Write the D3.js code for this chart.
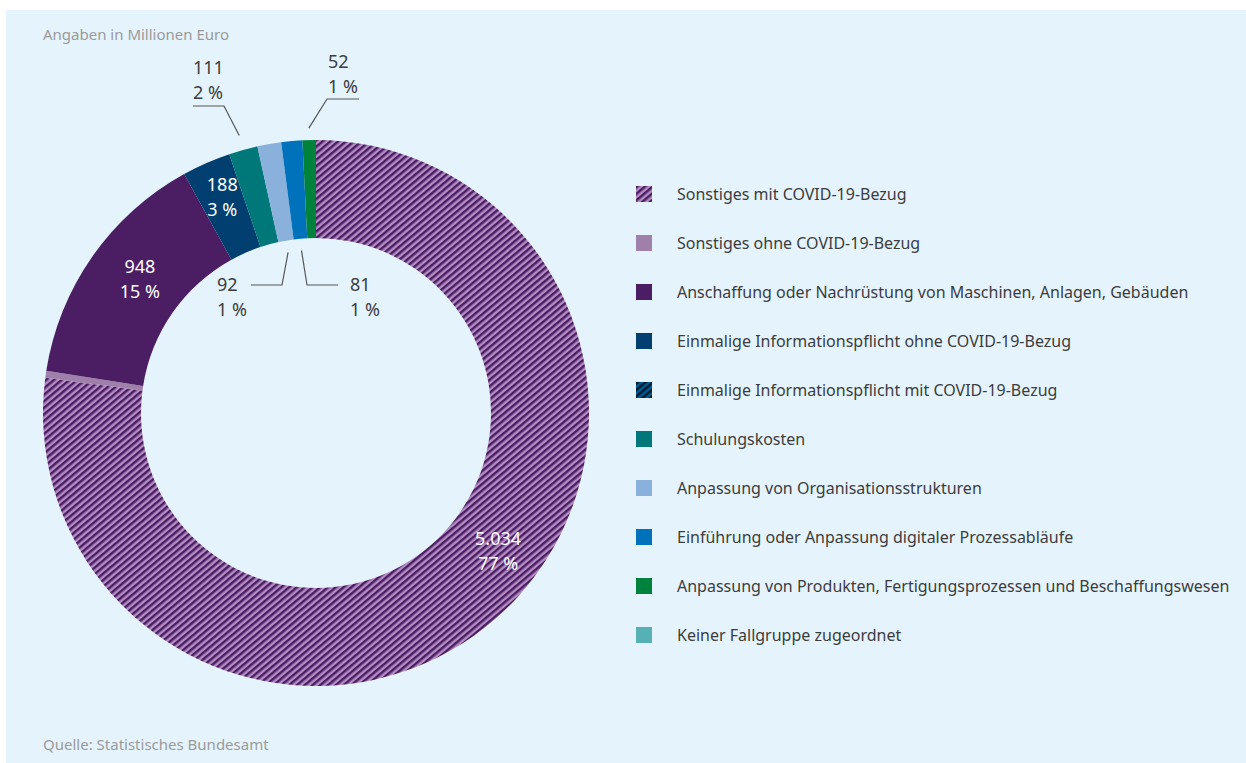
<!DOCTYPE html>
<html>
<head>
<meta charset="utf-8">
<script src="https://cdn.jsdelivr.net/npm/d3@7"></script>
<style>
  body { margin: 0; background: #ffffff; }
  svg { display: block; font-family: "Noto Sans", sans-serif; }
</style>
</head>
<body>
<div id="chart"></div>
<script>
// data (Millionen Euro), clockwise from 12 o'clock
const categories = [
  "Sonstiges mit COVID-19-Bezug",
  "Sonstiges ohne COVID-19-Bezug",
  "Anschaffung oder Nachrüstung von Maschinen, Anlagen, Gebäuden",
  "Einmalige Informationspflicht ohne COVID-19-Bezug",
  "Einmalige Informationspflicht mit COVID-19-Bezug",
  "Schulungskosten",
  "Anpassung von Organisationsstrukturen",
  "Einführung oder Anpassung digitaler Prozessabläufe",
  "Anpassung von Produkten, Fertigungsprozessen und Beschaffungswesen",
  "Keiner Fallgruppe zugeordnet"
];
const values = [5034, 27, 948, 188, 0, 111, 92, 81, 52, 0];
const valueLabels = ["5.034", "", "948", "188", "", "111", "92", "81", "52", ""];
const percentLabels = ["77 %", "", "15 %", "3 %", "", "2 %", "1 %", "1 %", "1 %", ""];

const colors = ["url(#hatchPurple)", "#9f80ab", "#4b1e63", "#003f6f", "url(#hatchNavy)",
                "#00787a", "#8ab1dc", "#0071bb", "#00813c", "#55b1b6"];

const width = 1246, height = 763;

const svg = d3.select("#chart")
  .append("svg")
  .attr("width", width)
  .attr("height", height);

const defs = svg.append("defs");

function hatch(id, dark, light) {
  const p = defs.append("pattern")
    .attr("id", id)
    .attr("patternUnits", "userSpaceOnUse")
    .attr("width", 5)
    .attr("height", 5)
    .attr("patternTransform", "rotate(-40)");
  p.append("rect").attr("width", 5).attr("height", 5).attr("fill", light);
  p.append("rect").attr("width", 5).attr("height", 2.5).attr("fill", dark);
}
hatch("hatchPurple", "#4b1e63", "#b38cc3");
hatch("hatchNavy", "#001a2e", "#005a96");

// panel
svg.append("rect")
  .attr("x", 6).attr("y", 10)
  .attr("width", width - 6).attr("height", height - 10)
  .attr("fill", "#e5f4fc");

svg.append("text")
  .attr("x", 43).attr("y", 40)
  .attr("fill", "#9a9a9a")
  .style("font-size", "15px")
  .text("Angaben in Millionen Euro");

svg.append("text")
  .attr("x", 43).attr("y", 750)
  .attr("fill", "#9a9a9a")
  .style("font-size", "15px")
  .text("Quelle: Statistisches Bundesamt");

// donut
const cx = 316, cy = 413, outerR = 273, innerR = 175;

const pie = d3.pie().sort(null).value(d => d);
const arcs = pie(values);
const arc = d3.arc().innerRadius(innerR).outerRadius(outerR);

const g = svg.append("g").attr("transform", `translate(${cx},${cy})`);

g.selectAll("path.slice")
  .data(arcs)
  .enter()
  .append("path")
  .attr("class", "slice")
  .attr("d", arc)
  .attr("fill", (d, i) => colors[i]);

// labels inside the ring (white), placed by angle (deg) and radius
const inside = [
  { i: 0, deg: 127, r: 228 },
  { i: 2, deg: 307.5, r: 222 },
  { i: 3, deg: 336.6, r: 236 }
];
inside.forEach(o => {
  const a = o.deg * Math.PI / 180;
  const x = Math.sin(a) * o.r;
  const y = -Math.cos(a) * o.r;
  const t = g.append("text")
    .attr("text-anchor", "middle")
    .attr("fill", "#ffffff")
    .style("font-size", "18px");
  t.append("tspan").attr("x", x).attr("y", y - 5).text(valueLabels[o.i]);
  t.append("tspan").attr("x", x).attr("y", y + 20).text(percentLabels[o.i]);
});

// labels outside with leader lines (start radius, elbow, end of horizontal, text pos)
const outside = [
  { i: 5, r0: outerR + 15, ex: -92, ey: -307, hx: -123, tx: -123, ty: -339 },
  { i: 8, r0: outerR + 12, ex: 11, ey: -314, hx: 43, tx: 12, ty: -345 },
  { i: 6, r0: innerR - 12, ex: -34, ey: -128, hx: -65, tx: -99, ty: -122 },
  { i: 7, r0: innerR - 12, ex: -9, ey: -128, hx: 22, tx: 34, ty: -122 }
];
outside.forEach(o => {
  const a = arcs[o.i];
  const mid = (a.startAngle + a.endAngle) / 2;
  const x0 = Math.sin(mid) * o.r0;
  const y0 = -Math.cos(mid) * o.r0;
  g.append("path")
    .attr("d", `M${x0},${y0}L${o.ex},${o.ey}L${o.hx},${o.ey}`)
    .attr("fill", "none")
    .attr("stroke", "#555555")
    .attr("stroke-width", 1.2);
  const t = g.append("text")
    .attr("fill", "#3c3c3c")
    .style("font-size", "18px");
  t.append("tspan").attr("x", o.tx).attr("y", o.ty).text(valueLabels[o.i]);
  t.append("tspan").attr("x", o.tx).attr("y", o.ty + 25).text(percentLabels[o.i]);
});

// legend
const legend = svg.append("g").attr("transform", "translate(636,186)");
const item = legend.selectAll("g.item")
  .data(categories)
  .enter()
  .append("g")
  .attr("class", "item")
  .attr("transform", (d, i) => `translate(0,${i * 49})`);

item.append("rect")
  .attr("width", 16).attr("height", 16)
  .attr("fill", (d, i) => colors[i]);

item.append("text")
  .attr("x", 41).attr("y", 14)
  .attr("fill", "#3c3c3c")
  .style("font-size", "16px")
  .text(d => d);
</script>
</body>
</html>
